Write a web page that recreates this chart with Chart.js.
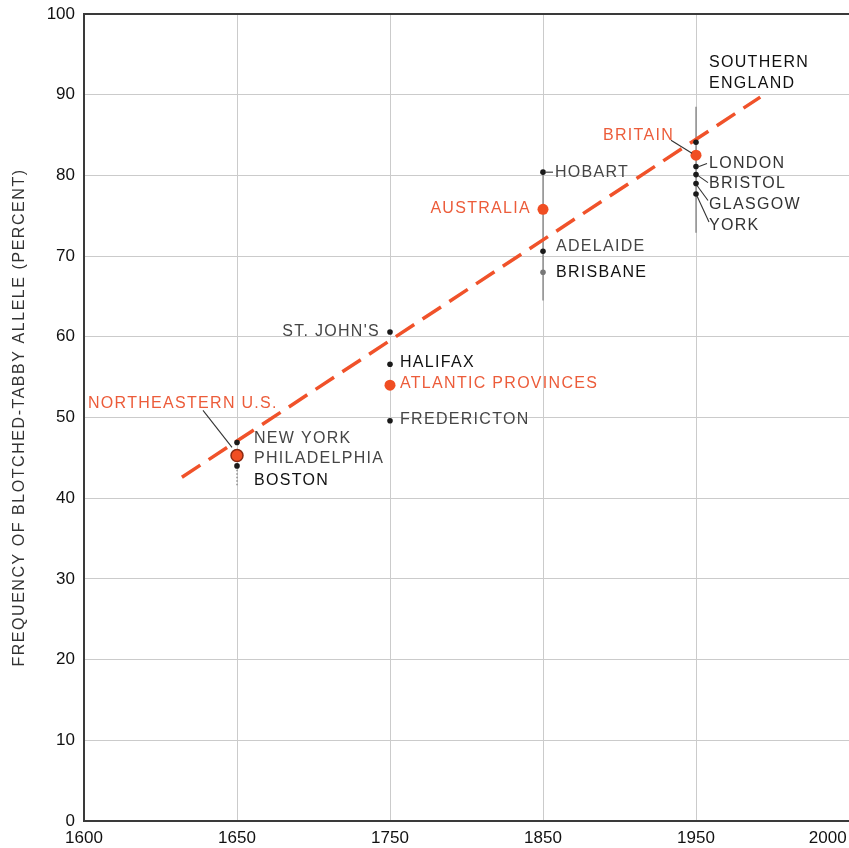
<!DOCTYPE html>
<html>
<head>
<meta charset="utf-8">
<script src="https://cdn.jsdelivr.net/npm/chart.js@4.4.1/dist/chart.umd.min.js"></script>
<style>
  html, body { margin: 0; padding: 0; background: #ffffff; overflow: hidden; }
  #wrap { position: relative; width: 849px; height: 848px; }
</style>
</head>
<body>
<div id="wrap"><canvas id="c"></canvas></div>
<script>
// ---- data ----
const xTickYears = [1600, 1650, 1750, 1850, 1950, 2000];
const yTickValues = [0, 10, 20, 30, 40, 50, 60, 70, 80, 90, 100];

const cityNames  = ["NEW YORK", "PHILADELPHIA", "BOSTON", "ST. JOHN'S", "HALIFAX", "FREDERICTON",
                    "HOBART", "ADELAIDE", "BRISBANE", "SOUTHERN\nENGLAND", "LONDON", "BRISTOL", "GLASGOW", "YORK"];
const cityYears  = [1650, 1650, 1650, 1750, 1750, 1750, 1850, 1850, 1850, 1950, 1950, 1950, 1950, 1950];
const cityValues = [46.9, 45.6, 44.0, 60.6, 56.6, 49.6, 80.4, 70.6, 68.0, 84.1, 81.1, 80.1, 79.0, 77.7];

const regionNames  = ["NORTHEASTERN U.S.", "ATLANTIC PROVINCES", "AUSTRALIA", "BRITAIN"];
const regionYears  = [1650, 1750, 1850, 1950];
const regionValues = [45.3, 54.0, 75.8, 82.5];

const trendYears  = [1632, 1971];
const trendValues = [42.6, 89.7];

const rangeYears = [1650, 1850, 1950];
const rangeLow   = [41.6, 64.5, 72.9];
const rangeHigh  = [44.0, 80.4, 88.5];

// map a year onto the evenly spaced axis positions of the ticks
function yearToPos(yr) {
  for (let i = 0; i < xTickYears.length - 1; i++) {
    const a = xTickYears[i], b = xTickYears[i + 1];
    if (yr <= b || i === xTickYears.length - 2) return i + (yr - a) / (b - a);
  }
}

// ---- styling (label placement relative to marks, in pixels) ----
const FONT = "'Liberation Sans', Arial, Helvetica, sans-serif";
const ORANGE = '#f0522a';
const ORANGE_TEXT = '#ec5c3a';
const labelStyle = {
  "NEW YORK":          {dx: 17, dy: -4, align: 'left', color: '#454545'},
  "PHILADELPHIA":      {dx: 17, dy: 6, align: 'left', color: '#454545'},
  "BOSTON":            {dx: 17, dy: 15, align: 'left', color: '#111'},
  "ST. JOHN'S":        {dx: -10, dy: 0, align: 'right', color: '#454545'},
  "HALIFAX":           {dx: 10, dy: -2, align: 'left', color: '#111'},
  "FREDERICTON":       {dx: 10, dy: -1, align: 'left', color: '#454545'},
  "HOBART":            {dx: 12, dy: 0, align: 'left', color: '#454545', leader: [[3, 0], [10, 0]]},
  "ADELAIDE":          {dx: 13, dy: -5, align: 'left', color: '#454545'},
  "BRISBANE":          {dx: 13, dy: 0, align: 'left', color: '#111'},
  "SOUTHERN\nENGLAND": {dx: 13, dy: -80, align: 'left', color: '#111', lineGap: 21},
  "LONDON":            {dx: 13, dy: -3, align: 'left', color: '#333', leader: [[3, 0], [11, -3]]},
  "BRISTOL":           {dx: 13, dy: 9, align: 'left', color: '#333', leader: [[2, 1], [12, 8]]},
  "GLASGOW":           {dx: 13, dy: 21, align: 'left', color: '#333', leader: [[1, 2], [12, 17]]},
  "YORK":              {dx: 13, dy: 32, align: 'left', color: '#333', leader: [[1, 2], [13, 28]]},
  "NORTHEASTERN U.S.": {dx: -149, dy: -52, align: 'left', color: ORANGE_TEXT, leader: [[-34, -45], [-5, -8]]},
  "ATLANTIC PROVINCES":{dx: 10, dy: -2, align: 'left', color: ORANGE_TEXT},
  "AUSTRALIA":         {dx: -12, dy: -1, align: 'right', color: ORANGE_TEXT},
  "BRITAIN":           {dx: -22, dy: -20, align: 'right', color: ORANGE_TEXT, leader: [[-25, -15], [-4, -2]]}
};

const cityPoints   = cityYears.map((y, i) => ({x: yearToPos(y), y: cityValues[i]}));
const regionPoints = regionYears.map((y, i) => ({x: yearToPos(y), y: regionValues[i]}));
const trendPoints  = trendYears.map((y, i) => ({x: yearToPos(y), y: trendValues[i]}));

const rangeDatasets = rangeYears.map((yr, i) => ({
  type: 'line',
  data: [{x: yearToPos(yr), y: rangeLow[i]}, {x: yearToPos(yr), y: rangeHigh[i]}],
  borderColor: '#7a7a7a', borderWidth: 1.2, pointRadius: 0, fill: false,
  borderDash: i === 0 ? [1.5, 2] : []
}));

const labelPlugin = {
  id: 'labels',
  beforeDraw(chart) {
    // widen the letter spacing of the axis title only
    const ys = chart.scales.y;
    if (ys && !ys._spacedTitle) {
      const orig = ys.drawTitle;
      ys.drawTitle = function () {
        const c = this.ctx;
        c.save();
        c.letterSpacing = '1.55px';
        orig.apply(this, arguments);
        c.restore();
      };
      ys._spacedTitle = true;
    }
  },
  afterDatasetsDraw(chart) {
    const ctx = chart.ctx, xs = chart.scales.x, ys = chart.scales.y;
    const items = [];
    cityNames.forEach((n, i) => items.push({n, x: cityPoints[i].x, y: cityPoints[i].y}));
    regionNames.forEach((n, i) => items.push({n, x: regionPoints[i].x, y: regionPoints[i].y}));
    ctx.save();
    ctx.font = "16px " + FONT;
    ctx.letterSpacing = '1.3px';
    ctx.textBaseline = 'middle';
    items.forEach(it => {
      const s = labelStyle[it.n];
      const px = xs.getPixelForValue(it.x), py = ys.getPixelForValue(it.y);
      if (s.leader) {
        ctx.strokeStyle = '#333';
        ctx.lineWidth = 1.1;
        ctx.beginPath();
        ctx.moveTo(px + s.leader[0][0], py + s.leader[0][1]);
        ctx.lineTo(px + s.leader[1][0], py + s.leader[1][1]);
        ctx.stroke();
      }
      ctx.fillStyle = s.color;
      ctx.textAlign = s.align;
      it.n.split('\n').forEach((line, k) => {
        ctx.fillText(line, px + s.dx, py + s.dy + k * (s.lineGap || 0));
      });
    });
    ctx.restore();
  }
};

new Chart(document.getElementById('c'), {
  type: 'scatter',
  data: {
    datasets: [
      {
        label: 'Regions',
        data: regionPoints,
        pointRadius: [6, 5.5, 5.5, 5.5],
        pointBackgroundColor: '#f04e23',
        pointBorderColor: ['#8a2a12', '#f04e23', '#f04e23', '#f04e23'],
        pointBorderWidth: [1.5, 0, 0, 0]
      },
      {
        label: 'Cities',
        data: cityPoints,
        pointRadius: 2.8,
        pointBackgroundColor: cityNames.map(n => n === 'BRISBANE' ? '#777' : '#1a1a1a'),
        pointBorderWidth: 0
      },
      {
        type: 'line',
        label: 'Trend',
        data: trendPoints,
        borderColor: ORANGE,
        borderWidth: 3.5,
        borderDash: [22, 10],
        pointRadius: 0,
        fill: false
      },
      ...rangeDatasets
    ]
  },
  options: {
    responsive: true,
    maintainAspectRatio: false,
    animation: false,
    layout: { autoPadding: false, padding: { top: 14, left: 0, right: 0, bottom: 0 } },
    plugins: { legend: { display: false }, tooltip: { enabled: false } },
    scales: {
      x: {
        type: 'linear', position: 'bottom', min: 0, max: xTickYears.length - 1,
        afterBuildTicks: s => { s.ticks = xTickYears.map((_, i) => ({value: i})); },
        afterFit: s => { s.height = 27; s.paddingLeft = 0; s.paddingRight = 0; },
        ticks: {
          autoSkip: false, maxRotation: 0, padding: 7, color: '#111',
          font: { family: FONT, size: 17 },
          callback: (v, i) => i === xTickYears.length - 1 ? xTickYears[i] + '         ' : String(xTickYears[i])
        },
        grid: { color: '#cbcbcb', lineWidth: 1, drawTicks: false },
        border: { color: '#3a3a3a', width: 2 }
      },
      xTop: {
        type: 'linear', position: 'top', min: 0, max: xTickYears.length - 1,
        afterFit: s => { s.height = 0; s.paddingLeft = 0; s.paddingRight = 0; },
        ticks: { display: false },
        grid: { display: false, drawTicks: false },
        border: { color: '#3a3a3a', width: 2 }
      },
      y: {
        min: 0, max: 100,
        afterBuildTicks: s => { s.ticks = yTickValues.map(v => ({value: v})); },
        afterFit: s => { s.width = 84; s.paddingTop = 0; s.paddingBottom = 0; },
        ticks: { padding: 9, color: '#111', font: { family: FONT, size: 17 } },
        grid: { color: '#cbcbcb', lineWidth: 1, drawTicks: false },
        border: { color: '#3a3a3a', width: 2 },
        title: {
          display: true, text: 'FREQUENCY OF BLOTCHED-TABBY ALLELE (PERCENT)',
          color: '#333', font: { family: FONT, size: 16 }, padding: { top: 10, bottom: 0 }
        }
      }
    }
  },
  plugins: [labelPlugin]
});
</script>
</body>
</html>
